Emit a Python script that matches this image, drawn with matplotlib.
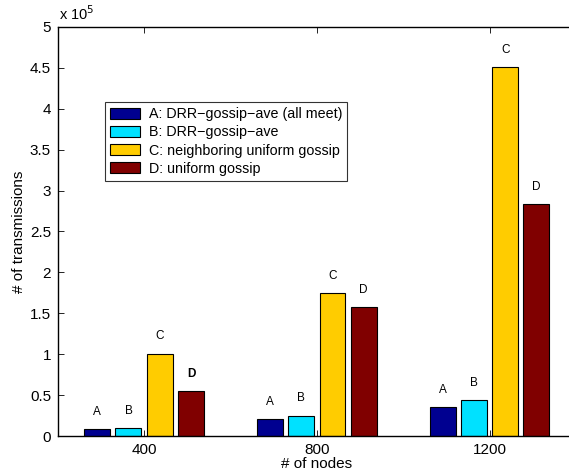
import numpy as np
import matplotlib
matplotlib.use("Agg")
import matplotlib.pyplot as plt

plt.rcParams['font.family'] = ['Liberation Sans', 'DejaVu Sans']

node_counts = ["400", "800", "1200"]
series_names = ["A: DRR\u2212gossip\u2212ave (all meet)", "B: DRR\u2212gossip\u2212ave",
                "C: neighboring uniform gossip", "D: uniform gossip"]
series_letters = ["A", "B", "C", "D"]
series_colors = ["#000090", "#00E1FF", "#FFCC00", "#800000"]

# number of transmissions
tx_a = [8200, 20400, 35100]
tx_b = [9800, 24800, 43600]
tx_c = [100500, 174800, 451000]
tx_d = [54600, 157700, 283600]


def main():
    fig = plt.figure(figsize=(5.69, 4.73), dpi=100)
    ax = fig.add_axes([58 / 569, 37 / 473, 518 / 569, 409 / 473])

    data = [tx_a, tx_b, tx_c, tx_d]
    x = np.arange(1, len(node_counts) + 1)
    offsets = [-0.272, -0.092, 0.09, 0.27]
    width = 0.15

    for i in range(0, 4):
        vals = np.array(data[i]) / 1e5
        ax.bar(x + offsets[i], vals, width, color=series_colors[i], edgecolor="black",
               linewidth=0.8, label=series_names[i], zorder=2)
        for j in range(0, len(x)):
            weight = "normal"
            if i == 3 and j == 0:
                weight = "bold"
            ax.text(x[j] + offsets[i], vals[j] + 0.14, series_letters[i], ha="center",
                    va="bottom", fontsize=8.5, fontweight=weight)

    ax.set_xlim(0.5, 3.5)
    ax.set_ylim(0, 5)
    ax.set_xticks(x)
    ax.set_xticklabels(node_counts)
    ax.set_yticks(np.arange(0, 5.01, 0.5))
    ax.set_yticklabels(["0", "0.5", "1", "1.5", "2", "2.5", "3", "3.5", "4", "4.5", "5"])
    ax.tick_params(direction="in", top=True, right=False, labelsize=11, length=4, width=0.6)
    ax.tick_params(axis="y", pad=5)
    ax.tick_params(axis="x", pad=5)
    ax.spines["right"].set_visible(False)
    for s in ax.spines.values():
        s.set_linewidth(1.0)

    ax.set_xlabel("# of nodes", fontsize=11, labelpad=0)
    ax.set_ylabel("# of transmissions", fontsize=11, labelpad=3)
    fig.text(59 / 569, 1 - 23 / 473, "x 10$^5$", fontsize=10.5, ha="left", va="bottom")

    leg = ax.legend(loc="upper left", bbox_to_anchor=(47 / 518, 1 - 75 / 409), fontsize=10.3,
                    frameon=True, fancybox=False, edgecolor="black", borderpad=0.35,
                    labelspacing=0.3, handlelength=2.1, handleheight=0.8,
                    handletextpad=0.6, borderaxespad=0)
    leg.get_frame().set_linewidth(0.8)

    plt.savefig("out.png", dpi=100)


if __name__ == "__main__":
    main()
